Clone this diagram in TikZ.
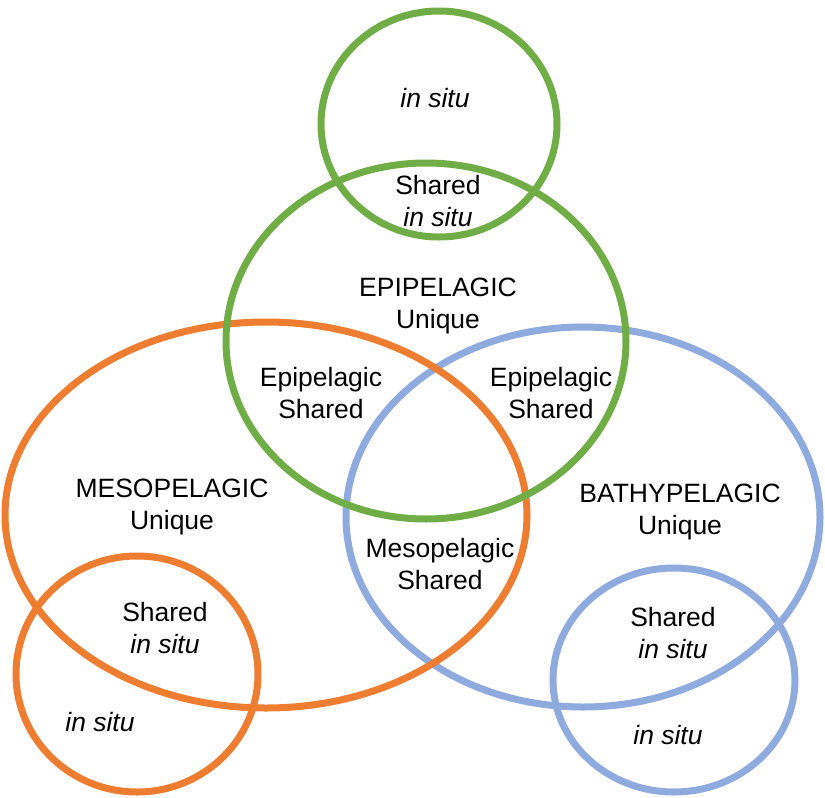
\documentclass[tikz,border=0pt]{standalone}
\usepackage{fontspec}
\setmainfont{Liberation Sans}
\usepackage{tikz}
\definecolor{epigreen}{HTML}{70AD47}
\definecolor{mesoorange}{HTML}{ED7D31}
\definecolor{bathyblue}{HTML}{8FAADC}
\tikzset{
         zone/.style={line width=7pt},
         lbl/.style={align=center,inner sep=0pt,font=\fontsize{26.5}{31.5}\selectfont},
        }
\begin{document}
\begin{tikzpicture}[x=1pt,y=-1pt]
      \useasboundingbox (0,0) rectangle (825,798); % page
      \draw[zone,bathyblue] (583,517) ellipse (237 and 190); % bathypelagic
      \draw[zone,bathyblue] (674,680) ellipse (121 and 112); % bathypelagic in situ
      \draw[zone,mesoorange] (266,515) ellipse (261 and 193); % mesopelagic
      \draw[zone,mesoorange] (137,674) ellipse (121 and 118); % mesopelagic in situ
      \draw[zone,epigreen] (426,341) ellipse (200 and 178); % epipelagic
      \draw[zone,epigreen] (439,124) ellipse (118 and 113); % epipelagic in situ
      \node[lbl] (epiinsitu) at (435,98) {\textit{in situ}}; % top in situ
      \node[lbl] (epishin) at (438,201) {Shared\\ \textit{in situ}}; % top shared
      \node[lbl] (epiuniq) at (438,306) {EPIPELAGIC\\Unique}; % epipelagic unique
      \node[lbl] (epishl) at (321,393) {Epipelagic\\Shared}; % epi/meso
      \node[lbl] (epishr) at (551,393) {Epipelagic\\Shared}; % epi/bathy
      \node[lbl] (mesouniq) at (172,507) {MESOPELAGIC\\Unique}; % mesopelagic unique
      \node[lbl] (mesosh) at (440,564) {Mesopelagic\\Shared}; % meso/bathy
      \node[lbl] (bathyuniq) at (680,512) {BATHYPELAGIC\\Unique}; % bathypelagic unique
      \node[lbl] (mesoshin) at (165,628) {Shared\\ \textit{in situ}}; % lower left shared
      \node[lbl] (mesoinsitu) at (100,722) {\textit{in situ}}; % lower left in situ
      \node[lbl] (bathyshin) at (673,633) {Shared\\ \textit{in situ}}; % lower right shared
      \node[lbl] (bathyinsitu) at (668,735) {\textit{in situ}}; % lower right in situ
   \end{tikzpicture}
\end{document}
